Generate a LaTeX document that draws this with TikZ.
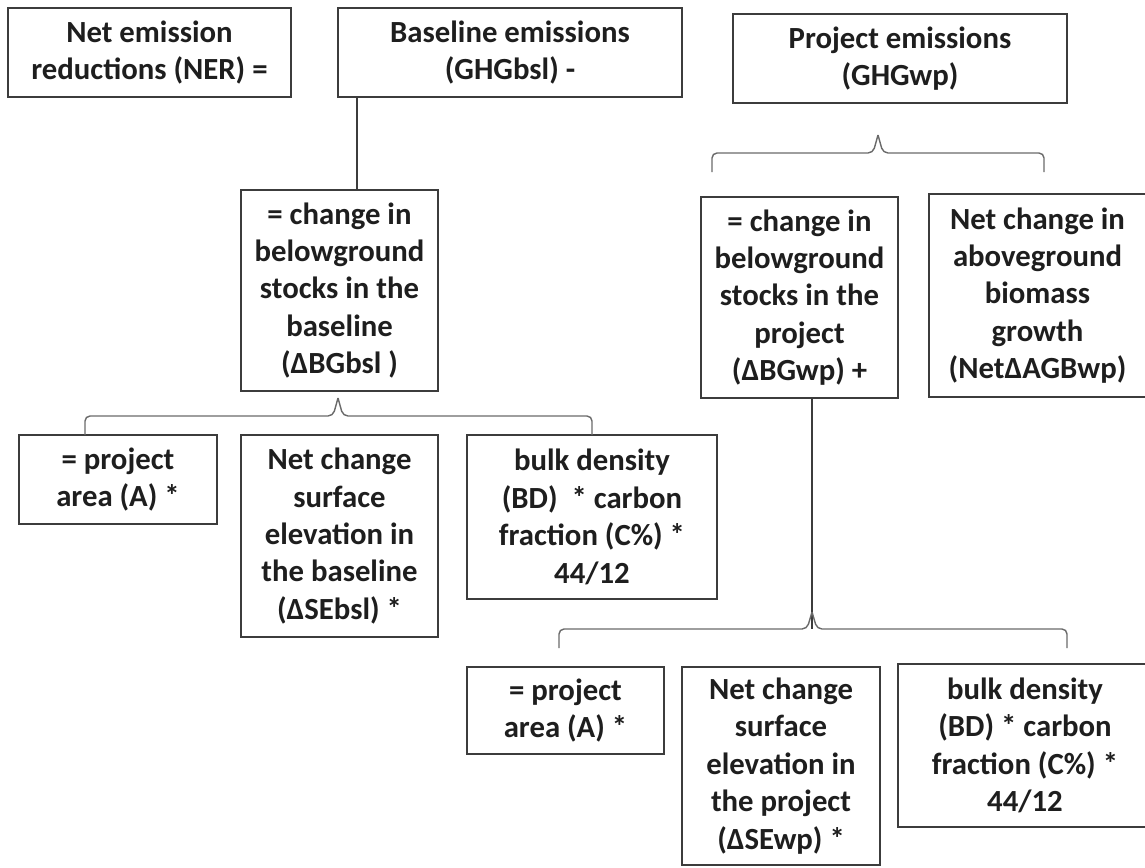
\documentclass[tikz,border=0pt]{standalone}
\usepackage{fontspec}
\setmainfont{Carlito}
\definecolor{edge}{HTML}{3C3C3C}
\definecolor{brgray}{HTML}{6A6A6A}
\definecolor{ink}{HTML}{1E1E1E}

\begin{document}
\begin{tikzpicture}[
  x=0.02cm, y=-0.02cm,
  box/.style={draw=edge, line width=1pt, align=center, inner sep=2pt,
              font=\fontsize{17.5pt}{21.3pt}\selectfont\bfseries, text=ink},
  link/.style={draw=edge, line width=0.9pt},
  brc/.style={draw=brgray, line width=0.8pt, rounded corners=0.1cm}
]
  \path[use as bounding box, fill=white] (0,0) rectangle (1145,867);

  % top row
  \node[box, minimum width=5.66cm, minimum height=1.78cm] (ner) at (149.5,52.5) {Net emission\\reductions (NER) =};
  \node[box, minimum width=6.88cm, minimum height=1.78cm] (bsl) at (510,52.5) {Baseline emissions\\(GHGbsl) -};
  \node[box, minimum width=6.68cm, minimum height=1.78cm] (proj) at (900,58.5) {Project emissions\\(GHGwp)};

  % second row
  \node[box, minimum width=3.94cm, minimum height=4.02cm] (bgbsl) at (339.5,290.5) {= change in\\belowground\\stocks in the\\baseline\\(ΔBGbsl )};
  \node[box, minimum width=3.94cm, minimum height=4.02cm] (bgwp) at (799.5,297.5) {= change in\\belowground\\stocks in the\\project\\(ΔBGwp) +};
  \node[box, minimum width=4.34cm, minimum height=4.06cm] (agb) at (1037.5,295.5) {Net change in\\aboveground\\biomass\\growth\\(NetΔAGBwp)};

  % baseline factors
  \node[box, minimum width=3.96cm, minimum height=1.78cm] (areabsl) at (118,479.5) {= project\\area (A) *};
  \node[box, minimum width=3.94cm, minimum height=4.04cm] (sebsl) at (339.5,536) {Net change\\surface\\elevation in\\the baseline\\(ΔSEbsl) *};
  \node[box, minimum width=5.0cm, minimum height=3.28cm] (bdbsl) at (592,517) {bulk density\\(BD)~ * carbon\\fraction (C\%) *\\44/12};

  % project factors
  \node[box, minimum width=3.94cm, minimum height=1.74cm] (areawp) at (565.5,710.5) {= project\\area (A) *};
  \node[box, minimum width=3.96cm, minimum height=3.96cm] (sewp) at (781,766) {Net change\\surface\\elevation in\\the project\\(ΔSEwp) *};
  \node[box, minimum width=5.08cm, minimum height=3.26cm] (bdwp) at (1025,745.5) {bulk density\\(BD) * carbon\\fraction (C\%) *\\44/12};

  % brace points
  \coordinate (b1l) at (712,172);  \coordinate (b1r) at (1044,172);
  \coordinate (b1m) at (878,153);  \coordinate (b1t) at (878,135);
  \coordinate (b2l) at (85,435);   \coordinate (b2r) at (592,435);
  \coordinate (b2m) at (338,416);  \coordinate (b2t) at (338,398);
  \coordinate (b3l) at (559,648);  \coordinate (b3r) at (1067,648);
  \coordinate (b3m) at (812,629);  \coordinate (b3t) at (812,612);
  \coordinate (x1) at (357,0);

  \draw[link] (bsl.south -| x1) -- (bgbsl.north -| x1);
  \draw[link] (bgwp.south -| b3m) -- (b3m);

  \draw[brc] (b1l) |- ([xshift=-0.1cm]b1m) -- (b1t);
  \draw[brc] (b1t) -- ([xshift=0.1cm]b1m) -| (b1r);
  \draw[brc] (b2l) |- ([xshift=-0.1cm]b2m) -- (b2t);
  \draw[brc] (b2t) -- ([xshift=0.1cm]b2m) -| (b2r);
  \draw[brc] (b3l) |- ([xshift=-0.1cm]b3m) -- (b3t);
  \draw[brc] (b3t) -- ([xshift=0.1cm]b3m) -| (b3r);
\end{tikzpicture}
\end{document}
